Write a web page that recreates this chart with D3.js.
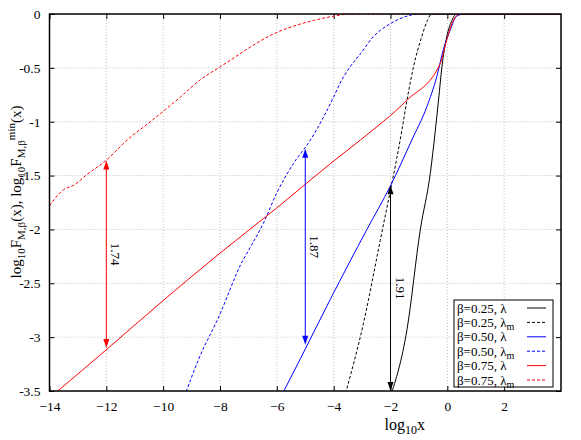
<!DOCTYPE html>
<html>
<head>
<meta charset="utf-8">
<script src="https://cdn.jsdelivr.net/npm/d3@7"></script>
<style>
  body { margin: 0; background: #fff; }
  text { font-family: "Liberation Serif", "DejaVu Serif", serif; fill: #000; }
  .grid line { stroke: #c0c0c0; stroke-dasharray: 1,2; }
  .curve { fill: none; stroke-width: 1; }
</style>
</head>
<body>
<div id="vis"></div>
<script>
// ---- data ----
var xTicks = [-14, -12, -10, -8, -6, -4, -2, 0, 2];
var yTicks = [0, -0.5, -1, -1.5, -2, -2.5, -3, -3.5];

// beta = 0.25, lambda
var b25X  = [-2.0, -1.42, -0.95, -0.6, -0.43, -0.31, -0.19, -0.02, 0.16, 0.33, 4];
var b25Y  = [-3.55, -2.93, -2.0, -1.48, -1.1, -0.8, -0.49, -0.21, -0.06, 0, 0];
// beta = 0.25, lambda_m
var b25mX = [-3.58, -2.95, -2.36, -1.6, -1.42, -1.19, -0.9, -0.7, -0.55, 4];
var b25mY = [-3.52, -2.87, -2.10, -1.08, -0.80, -0.49, -0.21, -0.06, 0, 0];
// beta = 0.50, lambda
var b50X  = [-5.85, -5.17, -4.12, -2.83, -2.01, -1.25, -0.72, -0.37, -0.14, 0.1, 0.33, 0.6, 4];
var b50Y  = [-3.55, -3.2, -2.65, -2.0, -1.60, -1.17, -0.86, -0.58, -0.33, -0.15, -0.02, 0, 0];
// beta = 0.50, lambda_m
var b50mX = [-9.25, -8.76, -7.99, -7.4, -7.28, -7.05, -6.47, -6.0, -5.42, -4.82, -4.0, -3.77, -3.42, -3.06, -2.6, -2.01, -1.42, -1.0, 4];
var b50mY = [-3.55, -3.21, -2.78, -2.40, -2.33, -2.22, -1.94, -1.66, -1.39, -1.17, -0.77, -0.64, -0.49, -0.37, -0.21, -0.09, -0.02, 0, 0];
// beta = 0.75, lambda
var b75X  = [-13.8, -11.97, -10, -8, -6, -4.12, -3.06, -1.42, -0.25, -0.02, 0.21, 0.45, 4];
var b75Y  = [-3.52, -3.11, -2.66, -2.22, -1.80, -1.39, -1.17, -0.80, -0.46, -0.24, -0.06, 0, 0];
// beta = 0.75, lambda_m
var b75mX = [-14, -13.5, -13.15, -12.68, -11.97, -11.27, -10.45, -9.39, -8.69, -7.99, -5.99, -4.71, -4.0, -3.42, 4];
var b75mY = [-1.78, -1.63, -1.59, -1.49, -1.35, -1.17, -1.0, -0.77, -0.61, -0.49, -0.17, -0.06, -0.02, 0, 0];

// double arrows: x position, top and bottom y, label
var arrowX      = [-12, -5, -2];
var arrowTop    = [-1.36, -1.25, -1.59];
var arrowBottom = [-3.10, -3.07, -3.5];
var arrowLabels = ["1.74", "1.87", "1.91"];
var arrowColors = ["#ff0000", "#0000ff", "#000000"];

var legendBeta = ["0.25", "0.25", "0.50", "0.50", "0.75", "0.75"];
var legendLam  = ["", "m", "", "m", "", "m"];

var series = [
  { x: b25X,  y: b25Y,  color: "#000000", dash: null },
  { x: b25mX, y: b25mY, color: "#000000", dash: "3,2" },
  { x: b50X,  y: b50Y,  color: "#0000ff", dash: null },
  { x: b50mX, y: b50mY, color: "#0000ff", dash: "3,2" },
  { x: b75X,  y: b75Y,  color: "#ff0000", dash: null },
  { x: b75mX, y: b75mY, color: "#ff0000", dash: "3,2" }
];

// ---- layout ----
var width = 581, height = 440;
var margin = { left: 49.5, right: 20, top: 14, bottom: 49 };
var drawWidth = width - margin.left - margin.right;
var drawHeight = height - margin.top - margin.bottom;

var svg = d3.select("#vis").append("svg")
  .attr("width", width)
  .attr("height", height);

var g = svg.append("g")
  .attr("transform", "translate(" + margin.left + "," + margin.top + ")");

var xScale = d3.scaleLinear().domain([-14, 4]).range([0, drawWidth]);
var yScale = d3.scaleLinear().domain([-3.5, 0]).range([drawHeight, 0]);

svg.append("defs").append("clipPath").attr("id", "clip")
  .append("rect").attr("width", drawWidth).attr("height", drawHeight);

// grid
var grid = g.append("g").attr("class", "grid");
grid.selectAll(".gx").data(xTicks.filter(function(d) { return d > -14; }))
  .enter().append("line")
  .attr("x1", function(d) { return xScale(d); })
  .attr("x2", function(d) { return xScale(d); })
  .attr("y1", 0).attr("y2", drawHeight);
grid.selectAll(".gy").data(yTicks.filter(function(d) { return d > -3.5 && d < 0; }))
  .enter().append("line")
  .attr("y1", function(d) { return yScale(d); })
  .attr("y2", function(d) { return yScale(d); })
  .attr("x1", 0).attr("x2", drawWidth);

// axes (inward ticks, mirrored)
var xAxis = d3.axisBottom(xScale).tickValues(xTicks).tickSize(-5).tickPadding(10)
  .tickFormat(d3.format("d"));
var yAxis = d3.axisLeft(yScale).tickValues(yTicks).tickSize(-5).tickPadding(9)
  .tickFormat(function(d) { return d === 0 ? "0" : String(d); });

var xa = g.append("g").attr("transform", "translate(0," + drawHeight + ")").call(xAxis);
var ya = g.append("g").call(yAxis);
g.append("g").call(d3.axisTop(xScale).tickValues(xTicks).tickSize(-5).tickFormat(""));
g.append("g").attr("transform", "translate(" + drawWidth + ",0)")
  .call(d3.axisRight(yScale).tickValues(yTicks).tickSize(-5).tickFormat(""));

svg.selectAll(".domain").remove();
svg.selectAll(".tick line").attr("stroke", "#000");
[xa, ya].forEach(function(a) {
  a.attr("font-family", "Liberation Serif").attr("font-size", 13.5);
  a.selectAll("text")
    .attr("font-family", "Liberation Serif")
    .style("font-family", "Liberation Serif")
    .style("font-size", "13.5px");
});
xa.selectAll("text").attr("dy", "0.75em");

// curves
var line = d3.line()
  .curve(d3.curveMonotoneX)
  .x(function(d) { return xScale(d[0]); })
  .y(function(d) { return yScale(d[1]); });

var curves = g.append("g").attr("clip-path", "url(#clip)");
series.forEach(function(s) {
  var pts = s.x.map(function(v, i) { return [v, s.y[i]]; });
  curves.append("path")
    .datum(pts)
    .attr("class", "curve")
    .attr("stroke", s.color)
    .attr("stroke-dasharray", s.dash)
    .attr("d", line);
});

// arrows
arrowX.forEach(function(ax, i) {
  var px = xScale(ax), y1 = yScale(arrowTop[i]), y2 = yScale(arrowBottom[i]);
  var c = arrowColors[i];
  g.append("line").attr("x1", px).attr("x2", px).attr("y1", y1 + 6).attr("y2", y2 - 6)
    .attr("stroke", c).attr("stroke-width", 1);
  g.append("path").attr("fill", c)
    .attr("d", "M" + px + "," + y1 + "L" + (px - 3) + "," + (y1 + 9) + "L" + (px + 3) + "," + (y1 + 9) + "Z");
  g.append("path").attr("fill", c)
    .attr("d", "M" + px + "," + y2 + "L" + (px - 3) + "," + (y2 - 9) + "L" + (px + 3) + "," + (y2 - 9) + "Z");
  var ly = (y1 + y2) / 2;
  g.append("text")
    .attr("transform", "translate(" + (px + 5) + "," + ly + ") rotate(90)")
    .attr("text-anchor", "middle")
    .style("font-size", "13px")
    .text(arrowLabels[i]);
});

// border
g.append("rect").attr("width", drawWidth).attr("height", drawHeight)
  .attr("fill", "none").attr("stroke", "#000").attr("stroke-width", 1.5);

// legend
var legend = g.append("g").attr("transform", "translate(" + (454 - margin.left) + "," + (300 - margin.top) + ")");
legend.append("rect").attr("width", 99).attr("height", 87)
  .attr("fill", "#fff").attr("stroke", "#000").attr("stroke-width", 1);
series.forEach(function(s, i) {
  var yy = 8 + i * 14.4;
  var t = legend.append("text").attr("x", 3).attr("y", yy + 4.5).style("font-size", "13px");
  t.append("tspan").text("\u03b2=" + legendBeta[i] + ", \u03bb");
  if (legendLam[i]) {
    t.append("tspan").attr("dy", 3).style("font-size", "10px").text(legendLam[i]);
  }
  legend.append("line").attr("x1", 73).attr("x2", 92).attr("y1", yy).attr("y2", yy)
    .attr("stroke", s.color).attr("stroke-dasharray", s.dash);
});

// axis titles
var xt = svg.append("text")
  .attr("x", margin.left + xScale(-1.5)).attr("y", 430)
  .attr("text-anchor", "middle").style("font-size", "16px");
xt.append("tspan").text("log");
xt.append("tspan").attr("dy", 4).style("font-size", "12px").text("10");
xt.append("tspan").attr("dy", -4).text("x");

var yt = svg.append("text")
  .attr("transform", "translate(21," + 192 + ") rotate(-90)")
  .attr("text-anchor", "middle").style("font-size", "15px");
yt.append("tspan").text("log");
yt.append("tspan").attr("dy", 4).style("font-size", "11px").text("10");
yt.append("tspan").attr("dy", -4).text("F");
yt.append("tspan").attr("dy", 4).style("font-size", "11px").text("M,\u03b2");
yt.append("tspan").attr("dy", -4).text("(x), log");
yt.append("tspan").attr("dy", 4).style("font-size", "11px").text("10");
yt.append("tspan").attr("dy", -4).text("F");
yt.append("tspan").attr("dy", 4).style("font-size", "11px").text("M,\u03b2");
yt.append("tspan").attr("dy", -10).style("font-size", "11px").text("min");
yt.append("tspan").attr("dy", 6).text("(x)");
</script>
</body>
</html>
